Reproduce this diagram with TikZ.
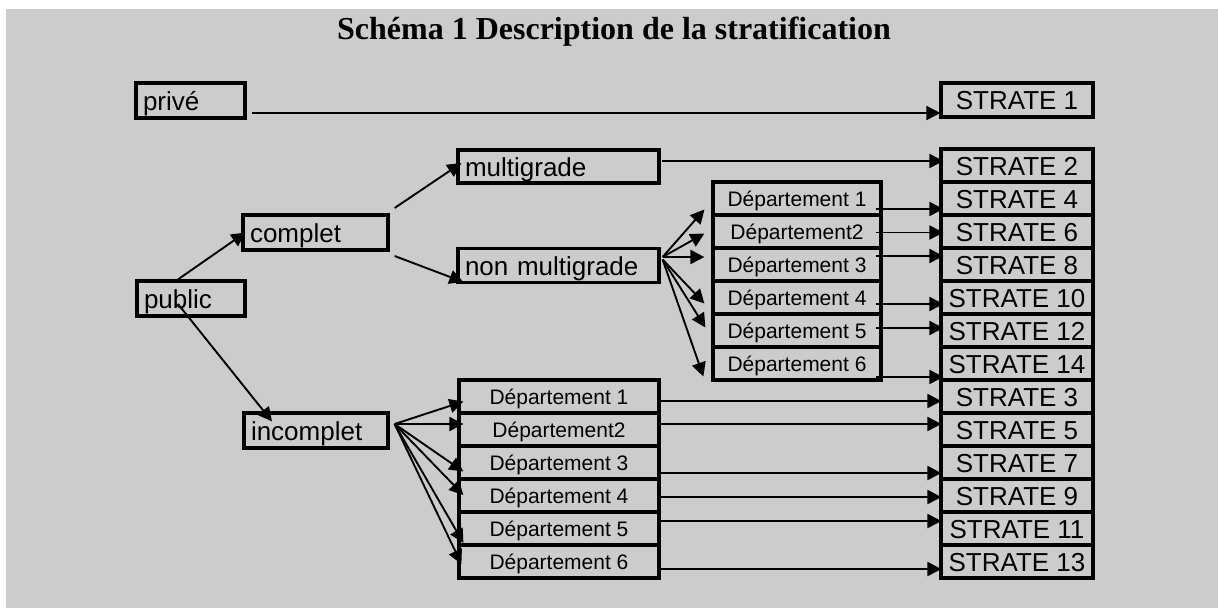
\documentclass[tikz,border=0pt]{standalone}
\usepackage{fontspec}
\setmainfont{Liberation Sans}
\newfontfamily\titlefont{Liberation Serif}
\usetikzlibrary{arrows.meta}
\definecolor{bggrey}{RGB}{204,204,204}
\begin{document}
\begin{tikzpicture}[x=1pt,y=-1pt,
  box/.style={draw, line width=3.2pt, inner sep=0pt},
  lbox/.style={box, inner xsep=7pt, font=\fontsize{26}{30}\selectfont, text height=19pt, text depth=0pt, align=left, minimum height=35pt},
  sbox/.style={box, font=\fontsize{26}{30}\selectfont, text height=19pt, text depth=0pt, minimum width=152pt, minimum height=33pt},
  dbox/.style={box, font=\fontsize{21}{25}\selectfont, text height=15pt, text depth=0pt, minimum height=33pt},
  udbox/.style={dbox, minimum width=168pt},
  ldbox/.style={dbox, minimum width=200pt},
  arr/.style={line width=1.9pt, -{Triangle[length=14pt,width=14pt]}},
  titlestyle/.style={font=\titlefont\bfseries\fontsize{32}{36}\selectfont, anchor=base, inner sep=0pt}
]
\useasboundingbox (0,0) rectangle (1218,608);
\fill[bggrey] (6,9) rectangle (1218,608);

\node[titlestyle] (title) at (614,39) {Schéma 1 Description de la stratification};

% left boxes
\node[lbox, text width=95pt]  (prive)    at (190.5,100.5) {privé};
\node[lbox, text width=94pt]  (public)   at (191,298.5)   {public};
\node[lbox, text width=131pt] (complet)  at (315.5,232.5) {complet};
\node[lbox, text width=130pt] (incomplet) at (316,430.5)  {incomplet};
\node[lbox, text width=187pt, minimum height=33pt] (mg) at (558.5,166.5) {multigrade};
\node[lbox, text width=187pt, minimum height=34pt] (nm) at (558.5,265.5) {non multigrade};

% strata
\node[sbox, minimum height=34pt] (s1) at (1017,100) {STRATE 1};
\node[sbox] (s2)  at (1017,165.5) {STRATE 2};
\node[sbox] (s4)  at (1017,198.5) {STRATE 4};
\node[sbox] (s6)  at (1017,231.5) {STRATE 6};
\node[sbox] (s8)  at (1017,264.5) {STRATE 8};
\node[sbox] (s10) at (1017,297.5) {STRATE 10};
\node[sbox] (s12) at (1017,330.5) {STRATE 12};
\node[sbox] (s14) at (1017,363.5) {STRATE 14};
\node[sbox] (s3)  at (1017,396.5) {STRATE 3};
\node[sbox] (s5)  at (1017,429.5) {STRATE 5};
\node[sbox] (s7)  at (1017,462.5) {STRATE 7};
\node[sbox] (s9)  at (1017,495.5) {STRATE 9};
\node[sbox] (s11) at (1017,528.5) {STRATE 11};
\node[sbox] (s13) at (1017,561.5) {STRATE 13};

% upper departments
\node[udbox] (ud1) at (797,198.5) {Département 1};
\node[udbox] (ud2) at (797,231.5) {Département2};
\node[udbox] (ud3) at (797,264.5) {Département 3};
\node[udbox] (ud4) at (797,297.5) {Département 4};
\node[udbox] (ud5) at (797,330.5) {Département 5};
\node[udbox] (ud6) at (797,363.5) {Département 6};

% lower departments
\node[ldbox] (ld1) at (559,396.5) {Département 1};
\node[ldbox] (ld2) at (559,429.5) {Département2};
\node[ldbox] (ld3) at (559,462.5) {Département 3};
\node[ldbox] (ld4) at (559,495.5) {Département 4};
\node[ldbox] (ld5) at (559,528.5) {Département 5};
\node[ldbox] (ld6) at (559,561.5) {Département 6};

% connectors
\draw[arr] ([shift={(5,12.5)}]prive.east) -- ([shift={(1,13)}]s1.west);
\draw[arr] ([shift={(-13,0)}]public.north) -- ([shift={(4,0)}]complet.west);
\draw[arr] ([shift={(-13,5.5)}]public.center) -- ([shift={(-44,10)}]incomplet.north);
\draw[arr] ([shift={(5,-24.5)}]complet.east) -- ([shift={(5,-3.5)}]mg.west);
\draw[arr] ([shift={(5,23.5)}]complet.east) -- ([shift={(7,16.5)}]nm.west);
\draw[arr] ([shift={(1,-5.5)}]mg.east) -- ([shift={(4,-4.5)}]s2.west);

% fan non multigrade
\draw[arr] ([shift={(2,-8.5)}]nm.east) -- ([shift={(-7,11)}]ud1.west);
\draw[arr] ([shift={(2,-8.5)}]nm.east) -- ([shift={(-7,2)}]ud2.west);
\draw[arr] ([shift={(2,-8.5)}]nm.east) -- ([shift={(-7,-7.5)}]ud3.west);
\draw[arr] ([shift={(2,-6)}]nm.east) -- ([shift={(-7,6)}]ud4.west);
\draw[arr] ([shift={(2,-6)}]nm.east) -- ([shift={(-6,-3)}]ud5.west);
\draw[arr] ([shift={(2,-6)}]nm.east) -- ([shift={(-8,13)}]ud6.west);

% upper departments to strata
\draw[arr] ([shift={(-7,10.5)}]ud1.east) -- ([shift={(4,10.5)}]s4.west);
\draw[arr] ([shift={(-7,1)}]ud2.east)    -- ([shift={(4,1)}]s6.west);
\draw[arr] ([shift={(-7,-8.5)}]ud3.east) -- ([shift={(4,-8.5)}]s8.west);
\draw[arr] ([shift={(-7,6.5)}]ud4.east)  -- ([shift={(4,6.5)}]s10.west);
\draw[arr] ([shift={(-7,-2.5)}]ud5.east) -- ([shift={(4,-2.5)}]s12.west);
\draw[arr] ([shift={(-7,13.5)}]ud6.east) -- ([shift={(4,13.5)}]s14.west);

% fan incomplet
\draw[arr] ([shift={(5,-6.5)}]incomplet.east) -- ([shift={(6,5)}]ld1.west);
\draw[arr] ([shift={(5,-6.5)}]incomplet.east) -- ([shift={(6,-5.5)}]ld2.west);
\draw[arr] ([shift={(5,-6.5)}]incomplet.east) -- ([shift={(6,9)}]ld3.west);
\draw[arr] ([shift={(5,-6.5)}]incomplet.east) -- ([shift={(6,-0.5)}]ld4.west);
\draw[arr] ([shift={(5,-6.5)}]incomplet.east) -- ([shift={(6,14.5)}]ld5.west);
\draw[arr] ([shift={(5,-6.5)}]incomplet.east) -- ([shift={(4,2.5)}]ld6.west);

% lower departments to strata
\draw[arr] ([shift={(0,4.5)}]ld1.east)  -- ([shift={(2,4.5)}]s3.west);
\draw[arr] ([shift={(0,-5.5)}]ld2.east) -- ([shift={(2,-5.5)}]s5.west);
\draw[arr] ([shift={(0,10.5)}]ld3.east) -- ([shift={(2,10.5)}]s7.west);
\draw[arr] ([shift={(0,1.5)}]ld4.east)  -- ([shift={(2,1.5)}]s9.west);
\draw[arr] ([shift={(0,-7.5)}]ld5.east) -- ([shift={(2,-7.5)}]s11.west);
\draw[arr] ([shift={(0,7.5)}]ld6.east)  -- ([shift={(2,7.5)}]s13.west);
\end{tikzpicture}
\end{document}
